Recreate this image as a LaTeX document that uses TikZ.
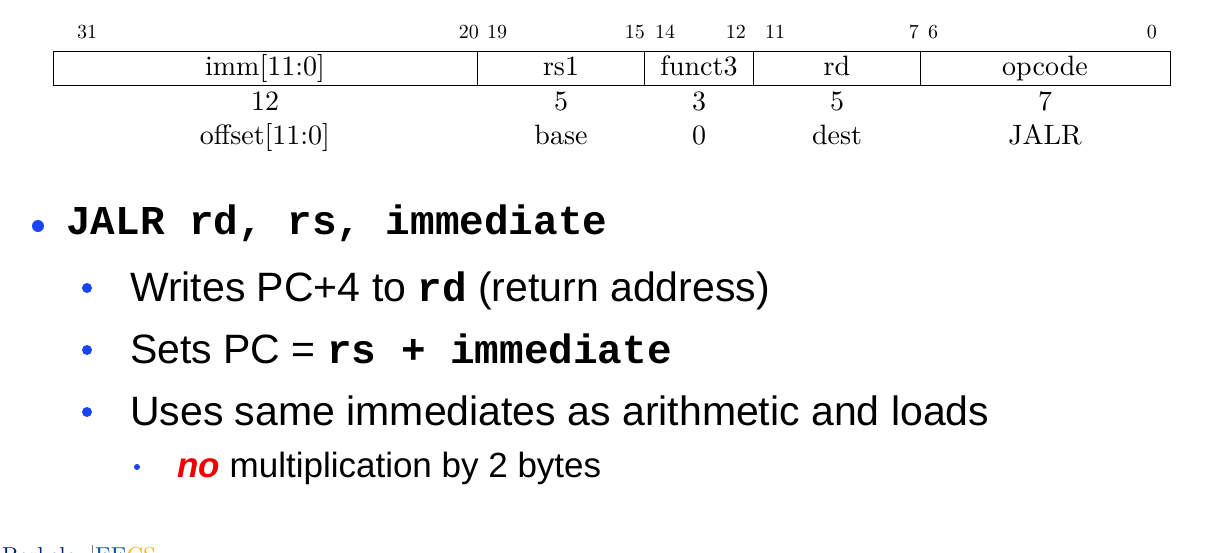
\documentclass[tikz,border=0pt]{standalone}
\usepackage{fontspec}
\setsansfont{Liberation Sans}
\setmonofont{Liberation Mono}
\newfontfamily\fmtfont[Extension=.otf]{lmroman10-regular}
\definecolor{bulblue}{RGB}{25,70,245}
\definecolor{nored}{RGB}{240,0,0}
\definecolor{calnavy}{RGB}{0,38,118}
\definecolor{calblue}{RGB}{0,80,180}
\definecolor{calgold}{RGB}{253,181,21}
\tikzset{
  bitnum/.style={font=\fontsize{20}{20}\fmtfont, inner sep=0pt},
  fieldtxt/.style={font=\fontsize{28}{28}\fmtfont, anchor=base, inner sep=0pt},
  lvlone/.style={font=\fontsize{41}{41}\selectfont\ttfamily\bfseries, anchor=base west, inner sep=0pt},
  lvltwo/.style={font=\fontsize{41}{41}\selectfont\sffamily, anchor=base west, inner sep=0pt},
  lvlthree/.style={font=\fontsize{35}{35}\selectfont\sffamily, anchor=base west, inner sep=0pt},
  bulletdot/.style={circle, fill=bulblue, inner sep=0pt, minimum size=#1}
}
\newcommand{\bcode}[1]{{\ttfamily\bfseries #1}}
\begin{document}
\begin{tikzpicture}[x=1pt, y=-1pt]
    \clip (0,0) rectangle (1219,552);
    % instruction format
    \draw[line width=0.8pt] (53,51) rectangle (1170,85);
    \foreach \x [count=\i] in {477,644,753,920}
      \draw[line width=0.8pt] (\x,51) coordinate (div\i) -- (\x,85);
    \foreach \t/\x/\side [count=\i] in {31/77/west, 20/479/east, 19/487/west, 15/645/east, 14/655/west,
                              12/746/east, 11/765/west, 7/919/east, 6/928/west, 0/1157/east}
      \node[bitnum, anchor=base \side] (bit\i) at (\x,38) {\t};
    \foreach \x/\fld/\len/\use [count=\i] in {265/imm[11:0]/12/offset[11:0], 561/rs1/5/base,
                              699/funct3/3/0, 837/rd/5/dest, 1045/opcode/7/JALR} {
      \node[fieldtxt] (fld\i) at (\x,75) {\fld};
      \node[fieldtxt] (len\i) at (\x,110) {\len};
      \node[fieldtxt] (use\i) at (\x,144) {\use};
    }
    % bullets
    \node[bulletdot=12pt] (dot1) at (38,226) {};
    \node[lvlone] (txt1) at (66,234) {JALR rd, rs, immediate};
    \node[bulletdot=10pt] (dot2) at (87,288) {};
    \node[lvltwo] (txt2) at (130,301) {Writes PC+4 to \bcode{rd} (return address)};
    \node[bulletdot=10pt] (dot3) at (87,350) {};
    \node[lvltwo] (txt3) at (130,363) {Sets PC = \bcode{rs + immediate}};
    \node[bulletdot=10pt] (dot4) at (87,412) {};
    \node[lvltwo] (txt4) at (130,425) {Uses same immediates as arithmetic and loads};
    \node[bulletdot=6pt] (dot5) at (137,467) {};
    \node[lvlthree] (txt5) at (177,477) {{\color{nored}\bfseries\itshape no} multiplication by 2 bytes};
    % footer, cut off
    \node[anchor=base west, inner sep=0pt, font=\fontsize{23}{23}\fmtfont, text=calnavy] (berk) at (2,563) {Berkeley};
    \draw[gray, line width=0.6pt] (92,545) coordinate (sep) -- (92,560);
    \node[anchor=base west, inner sep=0pt, font=\fontsize{23}{23}\fmtfont] (eecs) at (95,563) {{\color{calblue}EE}{\color{calgold}CS}};
\end{tikzpicture}
\end{document}
